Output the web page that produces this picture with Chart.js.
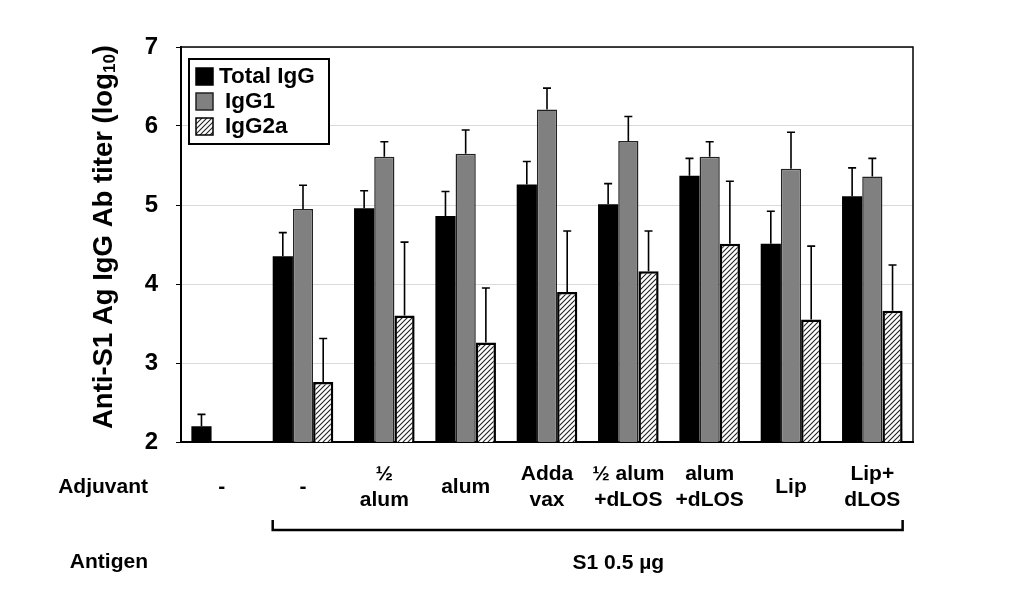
<!DOCTYPE html>
<html>
<head>
<meta charset="utf-8">
<script src="https://cdn.jsdelivr.net/npm/chart.js@4"></script>
<style>
  body { margin: 0; background: #fff; }
  canvas { display: block; }
</style>
</head>
<body>
<canvas id="titerChart" width="1019" height="594"></canvas>
<script>
// groups (adjuvant) and series values, log10 titer
const adjuvants = ['-', '-', ['½', 'alum'], 'alum', ['Adda', 'vax'], ['½ alum', '+dLOS'], ['alum', '+dLOS'], 'Lip', ['Lip+', 'dLOS']];
const totalIgG = [2.2, 4.35, 4.96, 4.86, 5.26, 5.01, 5.37, 4.51, 5.11];
const totalIgGErr = [0.15, 0.30, 0.22, 0.31, 0.29, 0.26, 0.22, 0.41, 0.36];
const igg1 = [null, 4.95, 5.61, 5.65, 6.21, 5.81, 5.61, 5.46, 5.36];
const igg1Err = [null, 0.30, 0.19, 0.30, 0.27, 0.31, 0.19, 0.46, 0.23];
const igg2a = [null, 2.76, 3.60, 3.26, 3.90, 4.16, 4.51, 3.55, 3.66];
const igg2aErr = [null, 0.55, 0.93, 0.69, 0.77, 0.51, 0.79, 0.93, 0.58];
const yTicks = [2, 3, 4, 5, 6, 7];

const FONT = '"Liberation Sans", Arial, sans-serif';

// diagonal hatch for IgG2a
function makeHatch() {
    const c = document.createElement('canvas');
    c.width = 5; c.height = 5;
    const g = c.getContext('2d');
    g.fillStyle = '#fff';
    g.fillRect(0, 0, 5, 5);
    g.strokeStyle = '#222';
    g.lineWidth = 1.1;
    g.beginPath();
    g.moveTo(0, 5); g.lineTo(5, 0);
    g.moveTo(-1, 1); g.lineTo(1, -1);
    g.moveTo(4, 6); g.lineTo(6, 4);
    g.stroke();
    return document.getElementById('titerChart').getContext('2d').createPattern(c, 'repeat');
}
const hatch = makeHatch();

const errorBars = {
    id: 'errorBars',
    afterDatasetsDraw(chart) {
        const ctx = chart.ctx;
        const y = chart.scales.y;
        ctx.save();
        ctx.strokeStyle = '#000';
        ctx.lineWidth = 1.6;
        chart.data.datasets.forEach((ds, i) => {
            const meta = chart.getDatasetMeta(i);
            meta.data.forEach((bar, j) => {
                const v = ds.data[j], e = ds.err[j];
                if (v == null || e == null) return;
                const top = y.getPixelForValue(v + e);
                const base = y.getPixelForValue(v);
                ctx.beginPath();
                ctx.moveTo(bar.x, base);
                ctx.lineTo(bar.x, top);
                ctx.moveTo(bar.x - 4, top);
                ctx.lineTo(bar.x + 4, top);
                ctx.stroke();
            });
        });
        ctx.restore();
    }
};

const decorations = {
    id: 'decorations',
    afterDraw(chart) {
        const ctx = chart.ctx;
        const a = chart.chartArea;
        const x = chart.scales.x;
        ctx.save();
        // top and right frame
        ctx.strokeStyle = '#000';
        ctx.lineWidth = 1.5;
        ctx.beginPath();
        ctx.moveTo(a.left, a.top);
        ctx.lineTo(a.right, a.top);
        ctx.lineTo(a.right, a.bottom);
        ctx.stroke();

        // legend
        const lx = a.left + 8, ly = a.top + 12;
        ctx.lineWidth = 2;
        ctx.fillStyle = '#fff';
        ctx.fillRect(lx, ly, 140, 85);
        ctx.strokeRect(lx, ly, 140, 85);
        const items = [
            { label: 'Total IgG', fill: '#000', border: '#000', tx: 30 },
            { label: 'IgG1', fill: '#808080', border: '#222', tx: 36 },
            { label: 'IgG2a', fill: hatch, border: '#000', tx: 36 }
        ];
        ctx.font = 'bold 22.5px ' + FONT;
        ctx.textBaseline = 'middle';
        ctx.textAlign = 'left';
        items.forEach((it, k) => {
            const cy = ly + 17 + k * 25;
            ctx.fillStyle = it.fill;
            ctx.fillRect(lx + 7, cy - 8, 17, 17);
            ctx.strokeStyle = it.border;
            ctx.lineWidth = 1.5;
            ctx.strokeRect(lx + 7, cy - 8, 17, 17);
            ctx.fillStyle = '#000';
            ctx.fillText(it.label, lx + it.tx, cy + 1);
        });

        // y axis title with subscript
        ctx.translate(104, 237);
        ctx.rotate(-Math.PI / 2);
        ctx.fillStyle = '#000';
        const main = 'Anti-S1 Ag IgG Ab titer (log';
        ctx.font = 'bold 27.5px ' + FONT;
        const w1 = ctx.measureText(main).width;
        ctx.font = 'bold 17px ' + FONT;
        const w2 = ctx.measureText('10').width;
        ctx.font = 'bold 27.5px ' + FONT;
        const w3 = ctx.measureText(')').width;
        let sx = -(w1 + w2 + w3) / 2;
        ctx.fillText(main, sx, 0);
        ctx.font = 'bold 17px ' + FONT;
        ctx.fillText('10', sx + w1, 6);
        ctx.font = 'bold 27.5px ' + FONT;
        ctx.fillText(')', sx + w1 + w2, 0);
        ctx.setTransform(1, 0, 0, 1, 0, 0);

        // row labels
        ctx.font = 'bold 21px ' + FONT;
        ctx.textAlign = 'right';
        ctx.textBaseline = 'middle';
        ctx.fillStyle = '#000';
        ctx.fillText('Adjuvant', 148, 487);
        ctx.fillText('Antigen', 148, 562);

        // bracket over the S1 groups
        const bw = chart.getDatasetMeta(0).data[1].width;
        const bl = x.getPixelForValue(1) - 1.5 * bw;
        const br = x.getPixelForValue(8) + 1.5 * bw;
        ctx.strokeStyle = '#000';
        ctx.lineWidth = 2.5;
        ctx.beginPath();
        ctx.moveTo(bl, 520);
        ctx.lineTo(bl, 530);
        ctx.lineTo(br, 530);
        ctx.lineTo(br, 520);
        ctx.stroke();
        ctx.textAlign = 'center';
        ctx.fillText('S1 0.5 µg', x.getPixelForValue(5) - 10, 563);
        ctx.restore();
    }
};

new Chart(document.getElementById('titerChart'), {
    type: 'bar',
    data: {
        labels: adjuvants,
        datasets: [
            { label: 'Total IgG', data: totalIgG, err: totalIgGErr, backgroundColor: '#000', borderColor: '#000', borderWidth: 0 },
            { label: 'IgG1', data: igg1, err: igg1Err, backgroundColor: '#808080', borderColor: '#222', borderWidth: 1.5 },
            { label: 'IgG2a', data: igg2a, err: igg2aErr, backgroundColor: hatch, borderColor: '#000', borderWidth: 2.5 }
        ]
    },
    options: {
        responsive: false,
        animation: false,
        devicePixelRatio: 1,
        layout: { padding: { left: 0, top: 47, right: 106, bottom: 0 } },
        datasets: { bar: { categoryPercentage: 0.745, barPercentage: 1.0 } },
        plugins: { legend: { display: false }, tooltip: { enabled: false } },
        scales: {
            x: {
                afterFit(s) { s.height = 152; },
                grid: { display: true, drawOnChartArea: false, drawTicks: false },
                border: { color: '#000', width: 2 },
                ticks: {
                    color: '#000',
                    padding: 32,
                    maxRotation: 0,
                    autoSkip: false,
                    crossAlign: 'center',
                    font: { family: FONT, size: 21, weight: 'bold', lineHeight: 1.25 }
                }
            },
            y: {
                min: 2,
                max: 7,
                afterFit(s) { s.width = 181; },
                afterBuildTicks(s) { s.ticks = yTicks.map(v => ({ value: v })); },
                grid: { color: '#d9d9d9', lineWidth: 1, tickColor: '#000', tickLength: 5 },
                border: { color: '#000', width: 2 },
                ticks: {
                    color: '#000',
                    padding: 18,
                    font: { family: FONT, size: 24, weight: 'bold' }
                }
            }
        }
    },
    plugins: [errorBars, decorations]
});
</script>
</body>
</html>
